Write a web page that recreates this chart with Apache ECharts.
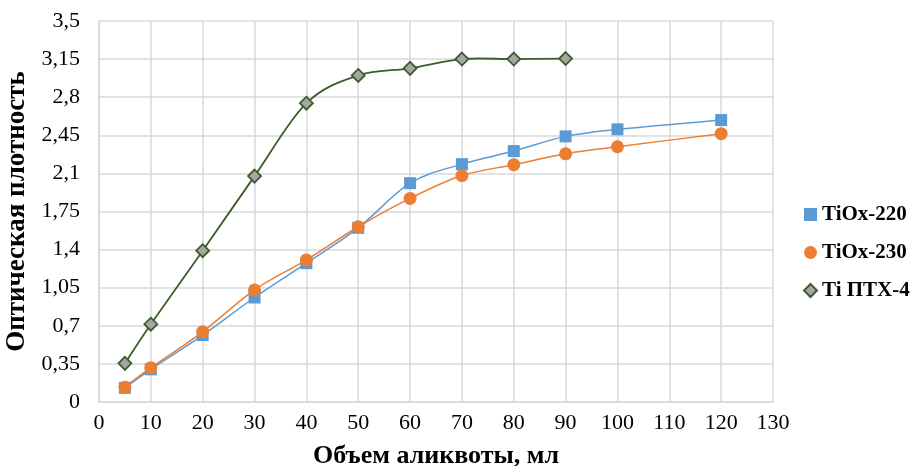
<!DOCTYPE html>
<html><head><meta charset="utf-8">
<script src="https://cdn.jsdelivr.net/npm/echarts@6/dist/echarts.min.js"></script>
<style>html,body{margin:0;padding:0;background:#fff}#c{width:917px;height:466px}</style>
</head><body><div id="c"></div>
<script>
const xTi220 = [5,10,20,30,40,50,60,70,80,90,100,120];
const yTi220 = [0.13,0.30,0.615,0.96,1.275,1.60,2.01,2.185,2.305,2.44,2.505,2.59];
const xTi230 = [5,10,20,30,40,50,60,70,80,90,100,120];
const yTi230 = [0.135,0.315,0.645,1.03,1.305,1.61,1.87,2.08,2.18,2.28,2.345,2.465];
const xPTX = [5,10,20,30,40,50,60,70,80,90];
const yPTX = [0.355,0.715,1.39,2.075,2.745,3.00,3.065,3.15,3.15,3.155];
const seriesNames = ['TiOx-220','TiOx-230','Ti ПТХ-4'];
const xAxisTitle = 'Объем аликвоты, мл';
const yAxisTitle = 'Оптическая плотность';

const pair = (xs, ys) => xs.map((x,i)=>[x, ys[i]]);
const font = 'Liberation Serif';

// smooth curve segment through the data points (Catmull-Rom -> cubic Bezier), positioned by the axes
function curveSeries(xs, ys, color, width, z){
  const pts = pair(xs, ys);
  return {
    type:'custom', data:pts, z:z, silent:true, clip:true,
    renderItem:function(params, api){
      const i = params.dataIndex;
      if (i >= pts.length - 1) return null;
      const P = j => api.coord(pts[Math.max(0, Math.min(pts.length-1, j))]);
      const p0 = P(i-1), p1 = P(i), p2 = P(i+1), p3 = P(i+2);
      const t = 6;
      return {
        type:'bezierCurve',
        shape:{x1:p1[0], y1:p1[1], x2:p2[0], y2:p2[1],
               cpx1:p1[0] + (p2[0]-p0[0])/t, cpy1:p1[1] + (p2[1]-p0[1])/t,
               cpx2:p2[0] - (p3[0]-p1[0])/t, cpy2:p2[1] - (p3[1]-p1[1])/t},
        style:{stroke:color, lineWidth:width, fill:null}
      };
    }
  };
}

const chart = echarts.init(document.getElementById('c'));
chart.setOption({
  animation:false,
  grid:{left:99,right:144,top:21,bottom:64, containLabel:false, outerBoundsMode:'none'},
  legend:{
    orient:'vertical', left:798, top:199, itemGap:17, itemWidth:13, itemHeight:13,
    textStyle:{fontFamily:font, fontWeight:'bold', fontSize:21, color:'#000'},
    data:[
      {name:seriesNames[0], icon:'rect'},
      {name:seriesNames[1], icon:'circle'},
      {name:seriesNames[2], icon:'diamond'}
    ]
  },
  xAxis:{
    type:'value', min:0, max:130, interval:10,
    name:xAxisTitle, nameLocation:'middle', nameGap:41,
    nameTextStyle:{fontFamily:font, fontWeight:'bold', fontSize:26, color:'#000'},
    axisLine:{show:true, lineStyle:{color:'#d9d9d9', width:1.5}},
    axisTick:{show:false},
    axisLabel:{fontFamily:font, fontSize:22, color:'#000', margin:10},
    splitLine:{show:true, lineStyle:{color:'#d9d9d9', width:1.5}}
  },
  yAxis:{
    type:'value', min:0, max:3.5, interval:0.35,
    name:yAxisTitle, nameLocation:'middle', nameGap:59, nameRotate:90,
    nameTextStyle:{fontFamily:font, fontWeight:'bold', fontSize:27, color:'#000'},
    axisLine:{show:true, lineStyle:{color:'#d9d9d9', width:1.5}},
    axisTick:{show:false},
    axisLabel:{fontFamily:font, fontSize:22, color:'#000', margin:19,
      formatter:v=>String(Math.round(v*100)/100).replace('.',',')},
    splitLine:{show:true, lineStyle:{color:'#d9d9d9', width:1.5}}
  },
  series:[
    {name:seriesNames[0], type:'scatter', data:pair(xTi220,yTi220),
     symbol:'rect', symbolSize:12, itemStyle:{color:'#5b9bd5', opacity:1}, z:4},
    {name:seriesNames[1], type:'scatter', data:pair(xTi230,yTi230),
     symbol:'circle', symbolSize:13, itemStyle:{color:'#ed7d31', opacity:1}, z:5},
    {name:seriesNames[2], type:'scatter', data:pair(xPTX,yPTX),
     symbol:'diamond', symbolSize:13,
     itemStyle:{color:'#a5a5a5', borderColor:'#3b5e2b', borderWidth:1.8, opacity:1}, z:6},
    curveSeries(xTi220, yTi220, '#5b9bd5', 1.5, 2),
    curveSeries(xTi230, yTi230, '#ed7d31', 1.5, 2),
    curveSeries(xPTX, yPTX, '#3b5e2b', 1.8, 2)
  ]
});
</script></body></html>
